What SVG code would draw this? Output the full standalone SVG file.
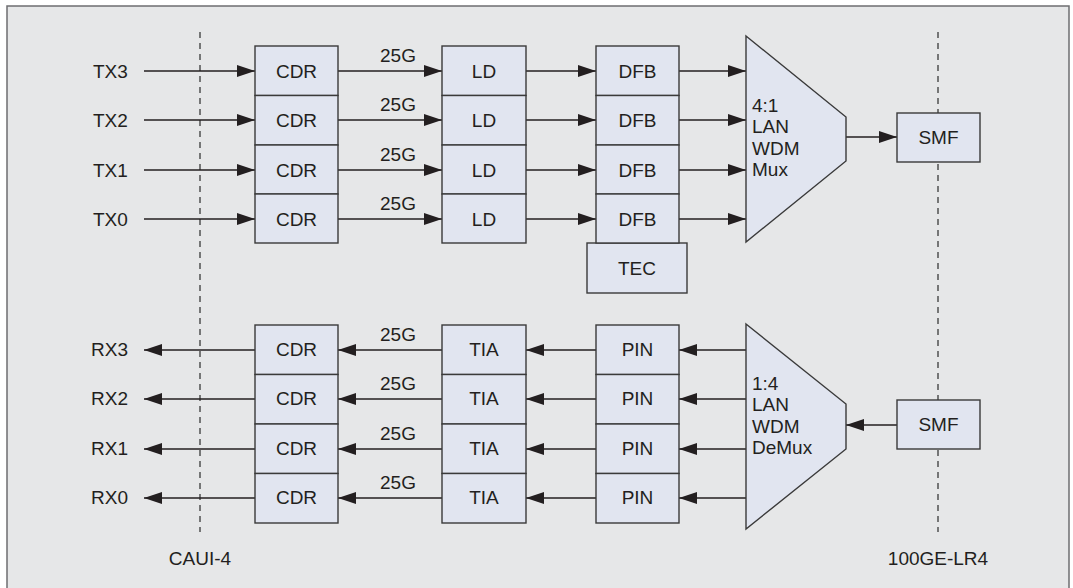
<svg xmlns="http://www.w3.org/2000/svg" width="1073" height="588" viewBox="0 0 1073 588">
<defs>
<marker id="ah" markerWidth="18" markerHeight="12" refX="18" refY="6" orient="auto" markerUnits="userSpaceOnUse">
<path d="M0,0 L18,6 L0,12 Z" fill="#231f20"/>
</marker>
<style>
.bg{fill:#e6e7e8;stroke:#6d6e70;stroke-width:1.5}
.box{fill:#e1e5f0;stroke:#3a3a3a;stroke-width:1.4}
.t{font-family:"Liberation Sans",Arial,sans-serif;font-size:19px;fill:#231f20}
.c{text-anchor:middle}
.ln{stroke:#231f20;stroke-width:1.4;fill:none;marker-end:url(#ah)}
.pl{stroke:#231f20;stroke-width:1.4;fill:none}
.dash{stroke:#3a3a3a;stroke-width:1.3;stroke-dasharray:6,5;fill:none}
</style>
</defs>
<rect class="bg" x="7" y="6" width="1062" height="590"/>
<g id="boundaries">
<line class="dash" x1="200" y1="32" x2="200" y2="532"/>
<line class="dash" x1="938" y1="32" x2="938" y2="532"/>
</g>
<g id="connectors">
<line class="ln" x1="144" y1="71" x2="255" y2="71"/>
<line class="ln" x1="144" y1="120" x2="255" y2="120"/>
<line class="ln" x1="144" y1="170" x2="255" y2="170"/>
<line class="ln" x1="144" y1="219" x2="255" y2="219"/>
<line class="ln" x1="338" y1="71" x2="442" y2="71"/>
<line class="ln" x1="338" y1="120" x2="442" y2="120"/>
<line class="ln" x1="338" y1="170" x2="442" y2="170"/>
<line class="ln" x1="338" y1="219" x2="442" y2="219"/>
<line class="ln" x1="526" y1="71" x2="596" y2="71"/>
<line class="ln" x1="526" y1="120" x2="596" y2="120"/>
<line class="ln" x1="526" y1="170" x2="596" y2="170"/>
<line class="ln" x1="526" y1="219" x2="596" y2="219"/>
<line class="ln" x1="679" y1="71" x2="746" y2="71"/>
<line class="ln" x1="679" y1="120" x2="746" y2="120"/>
<line class="ln" x1="679" y1="170" x2="746" y2="170"/>
<line class="ln" x1="679" y1="219" x2="746" y2="219"/>
<line class="ln" x1="846" y1="137" x2="897" y2="137"/>
<line class="ln" x1="255" y1="350" x2="144" y2="350"/>
<line class="ln" x1="255" y1="399" x2="144" y2="399"/>
<line class="ln" x1="255" y1="449" x2="144" y2="449"/>
<line class="ln" x1="255" y1="498" x2="144" y2="498"/>
<line class="ln" x1="442" y1="350" x2="338" y2="350"/>
<line class="ln" x1="442" y1="399" x2="338" y2="399"/>
<line class="ln" x1="442" y1="449" x2="338" y2="449"/>
<line class="ln" x1="442" y1="498" x2="338" y2="498"/>
<line class="ln" x1="596" y1="350" x2="526" y2="350"/>
<line class="ln" x1="596" y1="399" x2="526" y2="399"/>
<line class="ln" x1="596" y1="449" x2="526" y2="449"/>
<line class="ln" x1="596" y1="498" x2="526" y2="498"/>
<line class="ln" x1="746" y1="350" x2="679" y2="350"/>
<line class="ln" x1="746" y1="399" x2="679" y2="399"/>
<line class="ln" x1="746" y1="449" x2="679" y2="449"/>
<line class="ln" x1="746" y1="498" x2="679" y2="498"/>
<line class="ln" x1="897" y1="425" x2="846" y2="425"/>
</g>
<g id="labels" class="t">
<text x="93" y="78">TX3</text>
<text x="93" y="127">TX2</text>
<text x="93" y="177">TX1</text>
<text x="93" y="226">TX0</text>
<text x="91" y="356">RX3</text>
<text x="91" y="405">RX2</text>
<text x="91" y="455">RX1</text>
<text x="91" y="504">RX0</text>
<text class="c" x="398" y="62">25G</text>
<text class="c" x="398" y="111">25G</text>
<text class="c" x="398" y="161">25G</text>
<text class="c" x="398" y="210">25G</text>
<text class="c" x="398" y="341">25G</text>
<text class="c" x="398" y="390">25G</text>
<text class="c" x="398" y="440">25G</text>
<text class="c" x="398" y="489">25G</text>
<text class="c" x="200" y="565">CAUI-4</text>
<text class="c" x="938" y="565">100GE-LR4</text>
</g>
<g id="tx-cdr">
<rect class="box" x="255" y="46" width="83" height="49.5"/>
<rect class="box" x="255" y="95.5" width="83" height="49.5"/>
<rect class="box" x="255" y="145" width="83" height="49"/>
<rect class="box" x="255" y="194" width="83" height="49"/>
<g class="t c"><text x="296.5" y="78">CDR</text><text x="296.5" y="127">CDR</text><text x="296.5" y="177">CDR</text><text x="296.5" y="226">CDR</text></g>
</g>
<g id="tx-ld">
<rect class="box" x="442" y="46" width="84" height="49.5"/>
<rect class="box" x="442" y="95.5" width="84" height="49.5"/>
<rect class="box" x="442" y="145" width="84" height="49"/>
<rect class="box" x="442" y="194" width="84" height="49"/>
<g class="t c"><text x="484" y="78">LD</text><text x="484" y="127">LD</text><text x="484" y="177">LD</text><text x="484" y="226">LD</text></g>
</g>
<g id="tec">
<rect class="box" x="587" y="243" width="100" height="50"/>
<text class="t c" x="637" y="275">TEC</text>
</g>
<g id="tx-dfb">
<rect class="box" x="596" y="46" width="83" height="49.5"/>
<rect class="box" x="596" y="95.5" width="83" height="49.5"/>
<rect class="box" x="596" y="145" width="83" height="49"/>
<rect class="box" x="596" y="194" width="83" height="49"/>
<g class="t c"><text x="637.5" y="78">DFB</text><text x="637.5" y="127">DFB</text><text x="637.5" y="177">DFB</text><text x="637.5" y="226">DFB</text></g>
</g>
<g id="mux">
<polygon class="box" points="746,36 846,117 846,161 746,242"/>
<g class="t"><text x="752" y="112">4:1</text><text x="752" y="133">LAN</text><text x="752" y="155">WDM</text><text x="752" y="176">Mux</text></g>
</g>
<g id="smf-tx">
<rect class="box" x="897" y="113" width="83" height="49"/>
<text class="t c" x="938.5" y="144">SMF</text>
</g>
<g id="rx-cdr">
<rect class="box" x="255" y="325" width="83" height="49.5"/>
<rect class="box" x="255" y="374.5" width="83" height="49.5"/>
<rect class="box" x="255" y="424" width="83" height="49.5"/>
<rect class="box" x="255" y="473.5" width="83" height="49.5"/>
<g class="t c"><text x="296.5" y="356">CDR</text><text x="296.5" y="405">CDR</text><text x="296.5" y="455">CDR</text><text x="296.5" y="504">CDR</text></g>
</g>
<g id="rx-tia">
<rect class="box" x="442" y="325" width="84" height="49.5"/>
<rect class="box" x="442" y="374.5" width="84" height="49.5"/>
<rect class="box" x="442" y="424" width="84" height="49.5"/>
<rect class="box" x="442" y="473.5" width="84" height="49.5"/>
<g class="t c"><text x="484" y="356">TIA</text><text x="484" y="405">TIA</text><text x="484" y="455">TIA</text><text x="484" y="504">TIA</text></g>
</g>
<g id="rx-pin">
<rect class="box" x="596" y="325" width="83" height="49.5"/>
<rect class="box" x="596" y="374.5" width="83" height="49.5"/>
<rect class="box" x="596" y="424" width="83" height="49.5"/>
<rect class="box" x="596" y="473.5" width="83" height="49.5"/>
<g class="t c"><text x="637.5" y="356">PIN</text><text x="637.5" y="405">PIN</text><text x="637.5" y="455">PIN</text><text x="637.5" y="504">PIN</text></g>
</g>
<g id="demux">
<polygon class="box" points="746,324 846,404 846,449 746,529"/>
<g class="t"><text x="752" y="390">1:4</text><text x="752" y="411">LAN</text><text x="752" y="433">WDM</text><text x="752" y="454">DeMux</text></g>
</g>
<g id="smf-rx">
<rect class="box" x="897" y="400" width="83" height="49"/>
<text class="t c" x="938.5" y="431">SMF</text>
</g>
</svg>
